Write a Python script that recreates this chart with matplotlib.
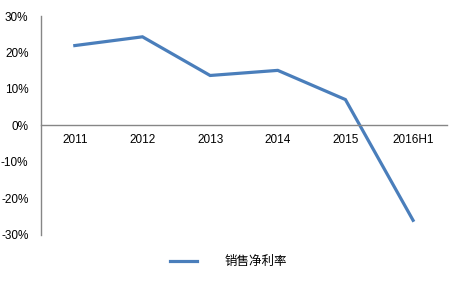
import numpy as np
import matplotlib
matplotlib.use("Agg")
import matplotlib.pyplot as plt
from matplotlib.ticker import FuncFormatter

# ==========================================================
# DATA
# ==========================================================

years = ["2011", "2012", "2013", "2014", "2015", "2016H1"]
net_margin = [21.9, 24.3, 13.7, 15.1, 7.1, -26.0]
series_name = "销售净利率"

y_ticks = [-30, -20, -10, 0, 10, 20, 30]

# ==========================================================
# PLOT
# ==========================================================

plt.rcParams["font.family"] = ["Liberation Sans", "Noto Sans CJK SC"]

fig = plt.figure(figsize=(4.52, 2.81), dpi=100)
ax = fig.add_axes([0.0907, 0.164, 0.898, 0.779])

x = np.arange(len(years))

line, = ax.plot(
    x,
    net_margin,
    color="#4A7EBB",
    linewidth=2.3,
    solid_joinstyle="miter",
    label=series_name
)

ax.set_xlim(-0.5, len(years) - 0.5)
ax.set_ylim(-30, 30)
ax.set_yticks(y_ticks)
ax.yaxis.set_major_formatter(FuncFormatter(lambda v, p: f"{v:.0f}%"))

ax.set_xticks(x)
ax.set_xticklabels(years)

for side in ["top", "right"]:
    ax.spines[side].set_visible(False)

ax.spines["bottom"].set_position(("data", 0))
ax.spines["bottom"].set_color("#868686")
ax.spines["left"].set_color("#868686")
ax.spines["bottom"].set_linewidth(1.0)
ax.spines["left"].set_linewidth(1.0)

ax.tick_params(axis="x", length=0, pad=6, labelsize=8.5)
ax.tick_params(axis="y", length=0, pad=9, labelsize=8.5)

fig.legend(
    handles=[line],
    loc="center",
    bbox_to_anchor=(0.505, 0.068),
    frameon=False,
    handlelength=2.2,
    handletextpad=2.2,
    prop={"family": ["Noto Sans CJK SC"], "size": 9}
)

fig.savefig("out.png", dpi=100)
